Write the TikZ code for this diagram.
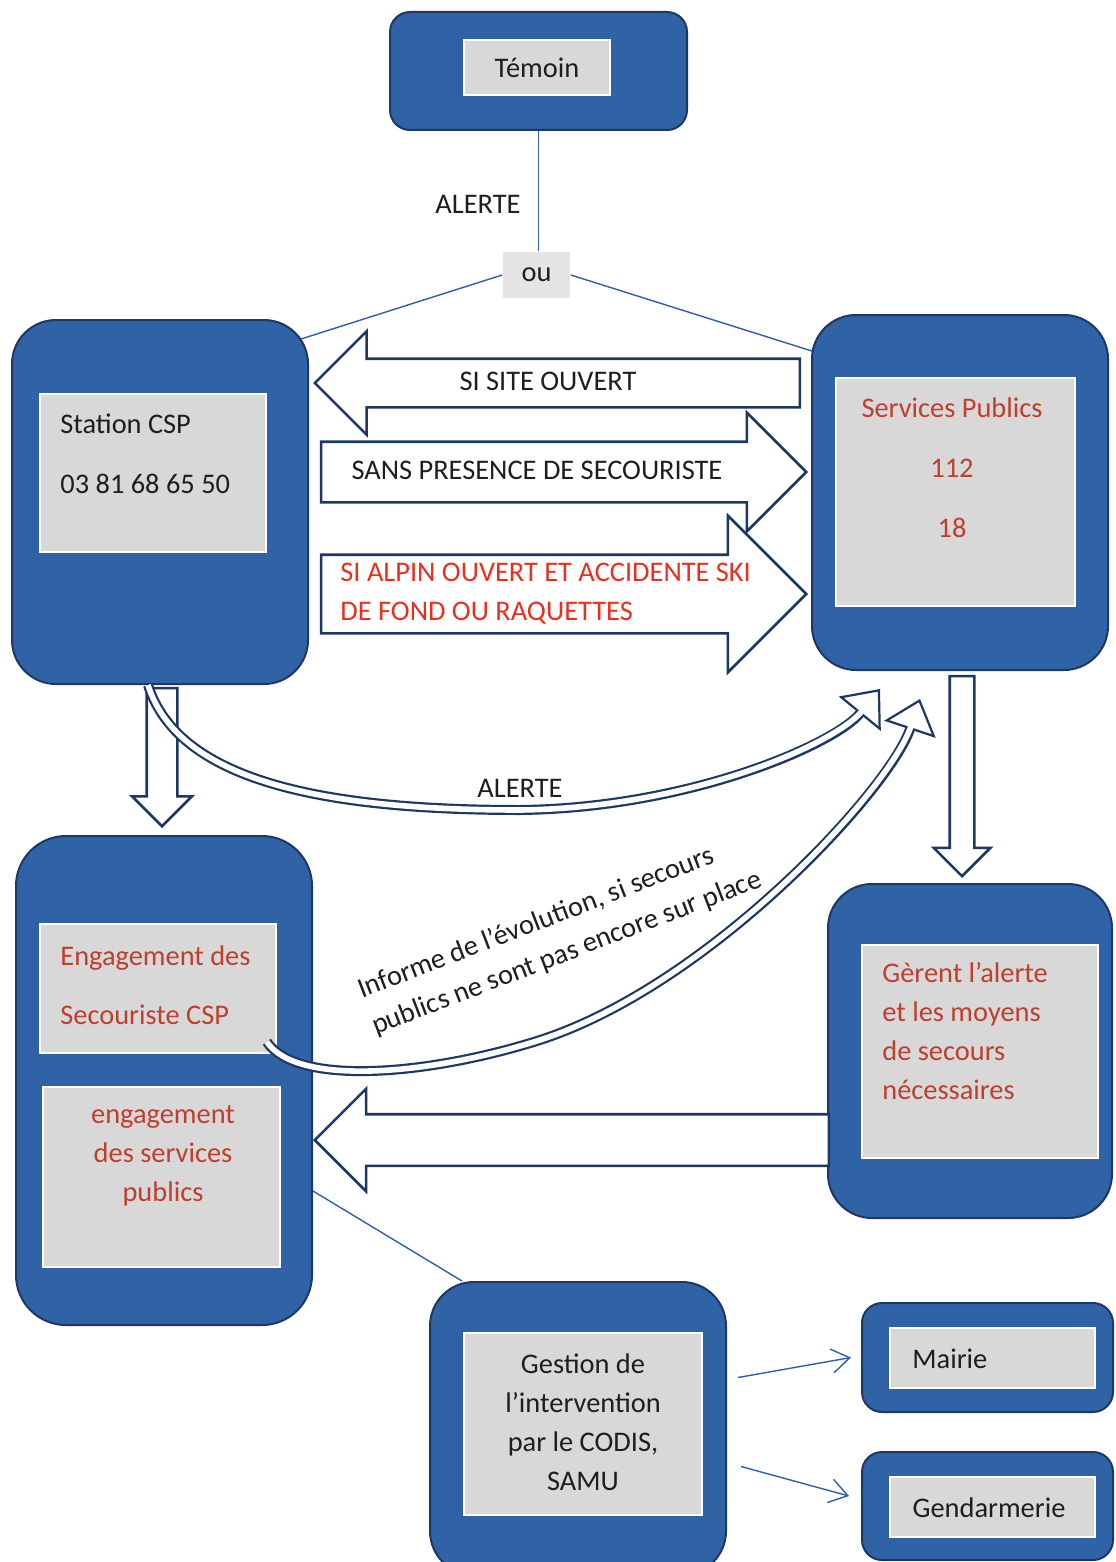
\documentclass[tikz,border=0pt]{standalone}
\usepackage{fontspec}
\setmainfont{Carlito}
\usepackage{xcolor}
\usepackage{tikz}
\usetikzlibrary{positioning,fit,calc,shapes.arrows,arrows.meta,backgrounds}

\definecolor{boite}{RGB}{47,99,165}
\definecolor{bord}{RGB}{29,56,100}
\definecolor{fond}{RGB}{216,216,216}
\definecolor{fondclair}{RGB}{228,228,228}
\definecolor{rouge}{RGB}{192,62,44}
\definecolor{rougevif}{RGB}{232,48,28}
\definecolor{trait}{RGB}{50,95,170}
\definecolor{encre}{RGB}{30,30,30}

\tikzset{
  boite/.style={draw=bord,line width=1pt,fill=boite,rounded corners=22pt,inner sep=0pt},
  petiteboite/.style={boite,rounded corners=10pt},
  cadre/.style={draw=white,line width=0.8pt,fill=fond,inner sep=0pt},
  txt/.style={inner sep=0pt,font=\fontsize{14.2}{19.5}\selectfont,text=encre},
  txtrouge/.style={txt,text=rouge},
  fleche/.style={single arrow,draw=bord,line width=1.3pt,fill=white,inner xsep=0pt,single arrow tip angle=90},
  flechebas/.style={fleche,shape border rotate=270,inner ysep=0pt},
  lien/.style={draw=trait,line width=0.7pt},
  bandeext/.style={draw=bord,line width=5pt,-{Triangle[fill=white,length=16pt,width=27pt,line width=1.1pt 0]}},
  bandeint/.style={draw=white,line width=2.8pt,-,shorten >=14.5pt}
}

\begin{document}
\begin{tikzpicture}[x=0.5pt,y=-0.5pt]
\useasboundingbox (0,0) rectangle (1115,1562);

\node[petiteboite,fit={(390,12) (687,130)}] (temoin) {};
\node[cadre,fit={(464,40) (610,95)}] (temoinI) {};
\node[txt] (temoinT) at (temoinI) {Témoin};
\node[cadre,draw=none,fill=fondclair,fit={(503,252) (570,298)}] (ou) {};
\node[txt] (ouT) at (ou) {ou};
\node[txt] (alerte1) at (478,204) {ALERTE};

\node[boite,fit={(12,320) (308,684)}] (stat) {};
\node[cadre,fit={(40,394) (266,552)}] (statI) {};
\node[txt,anchor=west,align=left] (statT) at (60,454) {Station CSP\\[10.5pt]03 81 68 65 50};

\node[boite,fit={(812,315) (1108,670)}] (serv) {};
\node[cadre,fit={(836,378) (1075,606)}] (servI) {};
\node[txtrouge,align=center] (servT) at (952,468) {Services Publics\\[10.5pt]112\\[10.5pt]18};

\node[boite,rounded corners=25pt,fit={(16,836) (312,1325)}] (eng) {};
\node[cadre,fit={(40,924) (276,1053)}] (engI) {};
\node[txtrouge,anchor=west,align=left] (engT) at (60,985) {Engagement des\\[10pt]Secouriste CSP};
\node[cadre,fit={(43,1087) (280,1267)}] (pubI) {};
\node[txtrouge,align=center] (pubT) at (163,1156) {engagement\\des services\\publics};

\node[boite,fit={(828,884) (1112,1218)}] (ger) {};
\node[cadre,fit={(862,945) (1098,1158)}] (gerI) {};
\node[txtrouge,anchor=west,align=left] (gerT) at (882,1031) {Gèrent l’alerte\\et les moyens\\de secours\\nécessaires};

\node[boite,fit={(430,1282) (726,1575)}] (gest) {};
\node[cadre,fit={(464,1333) (702,1515)}] (gestI) {};
\node[txt,align=center] (gestT) at (583,1422) {Gestion de\\l’intervention\\par le CODIS,\\SAMU};

\node[petiteboite,fit={(862,1303) (1113,1412)}] (mairie) {};
\node[cadre,fit={(890,1328) (1095,1388)}] (mairieI) {};
\node[txt,anchor=west] (mairieT) at (912,1359) {Mairie};
\node[petiteboite,fit={(862,1452) (1113,1560)}] (gend) {};
\node[cadre,fit={(890,1477) (1095,1537)}] (gendI) {};
\node[txt] (gendT) at (989,1508) {Gendarmerie};

\begin{pgfonlayer}{background}
\fill[white] (0,0) rectangle (1115,1562);
\draw[lien] (temoin.south) -- (temoin.south |- ou.north);
\draw[lien] (ou.west) -- ([shift={(-8,20)}]stat.north east);
\draw[lien] (ou.east) -- ([shift={(4,38)}]serv.north west);
\draw[lien] ([shift={(0,-135)}]eng.south east) -- ([shift={(33,0)}]gest.north west);
\end{pgfonlayer}

\node[fleche,shape border rotate=180,anchor=tip,inner ysep=11.5pt,single arrow head extend=13.75pt,minimum height=242.5pt] (site) at (313,383) {};
\node[fleche,anchor=tip,inner ysep=14.5pt,single arrow head extend=14.5pt,minimum height=242.5pt] (sans) at (808,472) {};
\node[fleche,anchor=tip,inner ysep=19pt,single arrow head extend=19.5pt,minimum height=242.5pt] (alpin) at (808,594) {};
\node[txt] (siteT) at (548,381) {SI SITE OUVERT};
\node[txt] (sansT) at (537,470) {SANS PRESENCE DE SECOURISTE};
\node[txt,text=rougevif,anchor=west,align=left] (alpinT) at (340,594) {SI ALPIN OUVERT ET ACCIDENTE SKI\\DE FOND OU RAQUETTES};

\node[flechebas,anchor=tip,inner xsep=7pt,single arrow head extend=7.25pt,minimum height=69pt] (descente) at (162,828) {};
\node[flechebas,anchor=tip,inner xsep=5.5pt,single arrow head extend=8pt,minimum height=100pt] (gestionA) at (962,878) {};
\node[fleche,shape border rotate=180,anchor=tip,inner ysep=12.25pt,single arrow head extend=12.75pt,minimum height=257pt] (retour) at (313,1140) {};

\draw[bandeext,postaction={bandeint}] ([xshift=-6pt]stat.south) .. controls +(30,95) and +(-200,0) .. (520,810) .. controls +(170,-2) and +(-45,55) .. ([shift={(-80,18)}]serv.south);
\node[txt] (alerte2) at (520,788) {ALERTE};

\draw[bandeext,postaction={bandeint}] ([shift={(-10,-12)}]engI.south east) .. controls +(30,45) and +(-110,35) .. (540,1040) .. controls +(170,-55) and +(-30,90) .. ([shift={(-40,28)}]serv.south);
\node[txt,rotate=21,align=left] (info) at (560,935) {Informe de l’évolution, si secours\\publics ne sont pas encore sur place};

\draw[lien,-{Straight Barb[length=9pt,width=12pt]}] ([shift={(11,-51)}]gest.east) -- ([xshift=-5pt]mairie.west);
\draw[lien,-{Straight Barb[length=9pt,width=12pt]}] ([shift={(14,38)}]gest.east) -- ([shift={(-12,-10)}]gend.west);
\end{tikzpicture}
\end{document}
